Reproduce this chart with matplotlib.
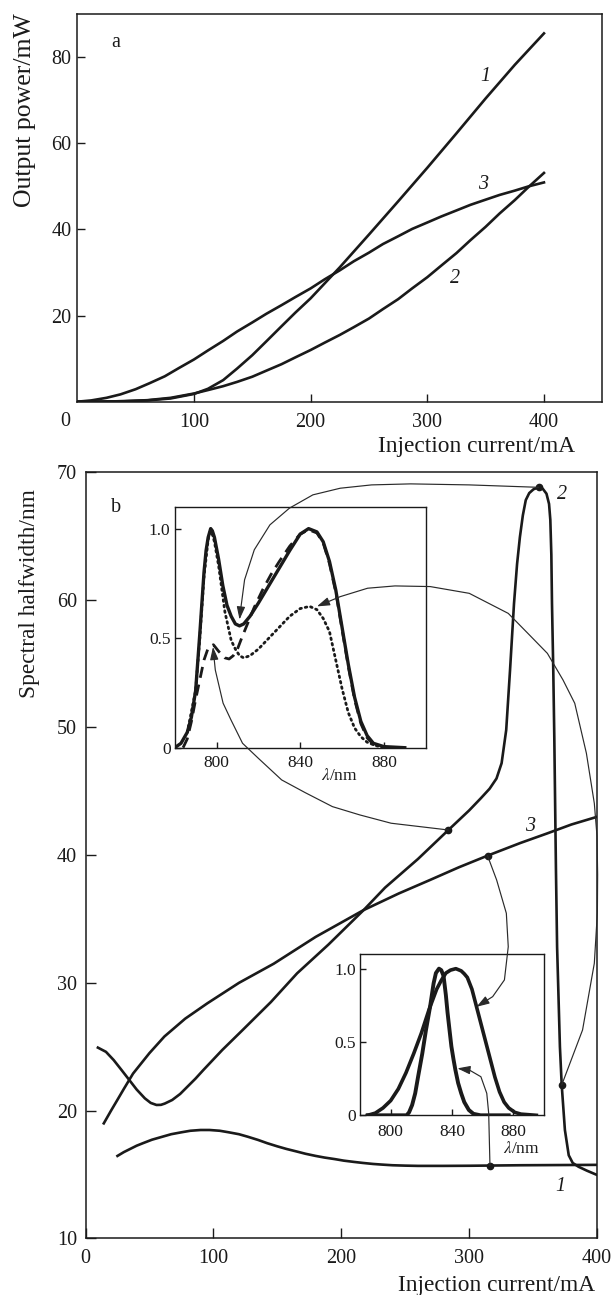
import matplotlib.pyplot as plt
import numpy as np
from matplotlib.patches import FancyArrowPatch
from matplotlib.path import Path

plt.rcParams['font.family'] = ['Liberation Serif', 'DejaVu Serif']
plt.rcParams['mathtext.fontset'] = 'stix'

# ---- panel a: output power vs injection current ----
a1_x = [0, 20, 40, 60, 80, 100, 112, 125, 137, 150, 162, 175, 187, 200, 225, 250, 275,
        300, 325, 350, 375, 400]
a1_y = [0, 0.03, 0.12, 0.3, 0.75, 1.8, 3.0, 5.0, 7.7, 10.8, 14.0, 17.5, 20.7, 24.0, 31.2,
        38.8, 46.5, 54.3, 62.3, 70.4, 78.2, 85.5]
a2_x = [0, 20, 40, 60, 80, 100, 112, 125, 137, 150, 162, 175, 187, 200, 212, 225, 237,
        250, 262, 275, 287, 300, 312, 325, 337, 350, 362, 375, 387, 400]
a2_y = [0, 0.03, 0.12, 0.35, 0.9, 1.9, 2.7, 3.6, 4.6, 5.8, 7.2, 8.7, 10.3, 12.0, 13.7,
        15.5, 17.3, 19.3, 21.5, 23.8, 26.3, 28.9, 31.6, 34.5, 37.5, 40.6, 43.7, 46.8,
        49.9, 53.1]
a3_x = [0, 12, 25, 37, 50, 62, 75, 87, 100, 112, 125, 137, 150, 162, 175, 187, 200, 212,
        225, 237, 250, 262, 275, 287, 300, 312, 325, 337, 350, 362, 375, 387, 400]
a3_y = [0, 0.3, 0.9, 1.7, 2.9, 4.3, 5.9, 7.8, 9.8, 11.9, 14.1, 16.3, 18.4, 20.4, 22.4,
        24.3, 26.3, 28.4, 30.5, 32.6, 34.6, 36.6, 38.4, 40.1, 41.6, 43.0, 44.4, 45.7,
        46.9, 48.0, 49.0, 50.0, 50.9]

# ---- panel b: spectral halfwidth vs injection current ----
b1_x = [25, 30, 35, 40, 45, 52, 60, 67, 75, 82, 90, 97, 105, 112, 120, 127, 135, 142,
        150, 157, 165, 172, 180, 187, 195, 202, 210, 217, 225, 232, 240, 250, 260, 280,
        300, 320, 340, 360, 380, 400]
b1_y = [16.45, 16.75, 17.0, 17.25, 17.45, 17.72, 17.95, 18.15, 18.3, 18.42, 18.48, 18.48,
        18.42, 18.3, 18.15, 17.95, 17.7, 17.45, 17.2, 17.0, 16.8, 16.62, 16.45, 16.32,
        16.2, 16.08, 15.98, 15.9, 15.82, 15.77, 15.72, 15.69, 15.67, 15.67, 15.68, 15.7,
        15.72, 15.73, 15.74, 15.75]

b2_x = [9.7, 16, 22, 28, 34.2, 40, 46.4, 51, 55.5, 59, 62, 67.8, 74, 80, 86, 92.2, 107,
        122.8, 145, 165.5, 190, 217.5, 234.3, 260, 283.8, 300, 309.2, 316, 321.4, 325.4,
        329, 332, 335.1, 337.5, 339.7, 342, 344.3, 347, 350.4, 354.4, 357.5, 360.5,
        362.5, 363.5, 364.3, 364.8, 365.8, 366.6, 367.9, 368.8, 371, 372.4, 374.9, 377.9,
        381, 385.6, 392, 400]
b2_y = [24.93, 24.6, 23.96, 23.2, 22.4, 21.65, 20.96, 20.6, 20.44, 20.45, 20.55, 20.83,
        21.3, 21.9, 22.5, 23.18, 24.75, 26.3, 28.5, 30.75, 33.0, 35.7, 37.46, 39.7, 41.97,
        43.5, 44.46, 45.2, 46.0, 47.2, 49.8, 54.5, 59.7, 62.8, 64.9, 66.6, 67.8, 68.35,
        68.65, 68.8, 68.7, 68.3, 67.5, 66.25, 63.5, 59.7, 54.5, 49.3, 38.84, 32.8, 25.0,
        22.0, 18.48, 16.5, 15.9, 15.6, 15.3, 14.96]

b3_x = [14.3, 20, 24.9, 30, 37.2, 50, 61.7, 78, 95.3, 120, 147.2, 180, 217.5, 245,
        269.5, 292, 314.4, 340, 361, 380, 400]
b3_y = [19.0, 20.0, 20.83, 21.7, 22.9, 24.5, 25.8, 27.2, 28.4, 30.0, 31.5, 33.6, 35.7,
        37.0, 38.06, 39.05, 39.96, 40.95, 41.7, 42.4, 43.0]

# points where the spectra in the insets were taken
dot_x = [354.4, 283.8, 372.4, 314.4, 316.3]
dot_y = [68.8, 41.97, 22.0, 39.96, 15.69]

# ---- inset 1 spectra (upper) ----
s1_solid_x = [780, 783, 786, 788, 790, 792, 794, 795, 796, 797.2, 798, 799, 801, 803, 805,
              807, 809, 811, 813, 816, 820, 825, 830, 835, 840, 844, 848, 851, 854, 857,
              860, 863, 866, 869, 872, 875, 880, 890]
s1_solid_y = [0, 0.02, 0.07, 0.14, 0.26, 0.52, 0.8, 0.9, 0.96, 1.0, 0.99, 0.96, 0.86, 0.74,
              0.65, 0.6, 0.565, 0.556, 0.565, 0.6, 0.66, 0.74, 0.82, 0.9, 0.975, 1.0,
              0.985, 0.94, 0.85, 0.72, 0.55, 0.38, 0.23, 0.12, 0.055, 0.02, 0.005, 0]
s1_dash_x = [784, 786, 788, 790, 792, 794, 796, 798.5, 801, 804, 806, 808, 810, 812, 815,
             818, 822, 826, 830, 835, 840, 844, 848, 851, 854, 857, 860, 863, 866, 869,
             872, 875, 880]
s1_dash_y = [0, 0.04, 0.12, 0.22, 0.31, 0.4, 0.455, 0.47, 0.44, 0.41, 0.405, 0.42, 0.45,
             0.5, 0.57, 0.64, 0.72, 0.79, 0.85, 0.92, 0.975, 0.995, 0.98, 0.935, 0.84,
             0.71, 0.54, 0.37, 0.22, 0.11, 0.045, 0.015, 0]
s1_dot_x = [786, 790, 792, 794, 796, 797.2, 799, 801, 804, 807, 809, 811, 813, 816, 820,
            825, 830, 835, 840, 844.5, 848, 851, 854, 857, 860, 863, 866, 869, 872, 876, 880]
s1_dot_y = [0.07, 0.26, 0.5, 0.78, 0.95, 1.0, 0.94, 0.83, 0.62, 0.49, 0.45, 0.42, 0.41,
            0.42, 0.45, 0.5, 0.55, 0.6, 0.635, 0.645, 0.63, 0.59, 0.53, 0.4, 0.27, 0.16,
            0.09, 0.05, 0.025, 0.01, 0]

# ---- inset 2 spectra (lower) ----
s2_narrow_x = [785, 800, 810.4, 812, 814, 816, 818, 820.6, 823, 825.7, 828, 829.5, 831.5,
               833, 834.5, 836, 837.1, 838.4, 839.6, 841, 842.2, 844, 846, 848, 851, 854,
               858.6, 877]
s2_narrow_y = [0, 0, 0, 0.02, 0.07, 0.15, 0.27, 0.42, 0.58, 0.74, 0.9, 0.97, 1.0, 0.99,
               0.95, 0.82, 0.7, 0.58, 0.47, 0.38, 0.31, 0.22, 0.15, 0.09, 0.036, 0.01, 0, 0]
s2_broad_x = [785, 790, 795, 800, 805, 810, 815, 820, 825, 830, 833, 836, 839, 842.5, 846,
              848, 850, 853, 856, 859, 862, 865, 868, 871, 874, 877, 881, 885, 895]
s2_broad_y = [0, 0.015, 0.05, 0.1, 0.18, 0.29, 0.42, 0.56, 0.72, 0.86, 0.92, 0.97, 0.99,
              1.0, 0.985, 0.965, 0.94, 0.86, 0.74, 0.62, 0.5, 0.38, 0.26, 0.16, 0.09,
              0.05, 0.02, 0.008, 0]

# connectors: waypoints in panel-b coordinates, tip in inset coordinates
conn_a = [(354.4, 68.8), (300.1, 68.99), (254.2, 69.07), (223.7, 68.99), (199.2, 68.73),
          (177.8, 68.21), (159.5, 67.17), (144.2, 65.86), (132.0, 63.91), (124.4, 61.56),
          (121.3, 59.21)]
tip_a = (811, 0.585)
conn_b = [(283.8, 41.97), (239.0, 42.5), (214.5, 43.15), (193.1, 43.8), (171.7, 46.93),
          (153.4, 45.89), (135.0, 50.06), (122.8, 48.76), (113.7, 53.2), (107.6, 51.9),
          (101.5, 54.5)]
conn_b = [(283.8, 41.97), (239.0, 42.5), (214.5, 43.15), (193.1, 43.8), (171.7, 44.9),
          (153.4, 45.89), (135.0, 47.6), (122.8, 48.76), (113.7, 50.6), (107.6, 51.9),
          (101.5, 54.5)]
tip_b = (798.3, 0.46)
conn_c = [(372.4, 22.0), (388.7, 26.31), (397.9, 31.53), (400.3, 35.5), (400.5, 38.5),
          (400.0, 41.5), (397.9, 44.06), (391.7, 47.98), (382.6, 51.89), (373.4, 53.72),
          (361.2, 55.8), (345.9, 57.37), (330.6, 58.93), (300.1, 60.5), (269.5, 61.03),
          (242.0, 61.08), (220.6, 60.9), (199.2, 60.24)]
tip_c = (848, 0.645)
conn_d = [(314.4, 39.96), (321.5, 38.06), (329.1, 35.45), (330.6, 32.83), (327.6, 30.23),
          (318.4, 28.92)]
tip_d = (856, 0.74)
conn_e = [(316.3, 15.69), (315.3, 19.79), (313.8, 21.35), (309.2, 22.65), (300.1, 23.18)]
tip_e = (843.5, 0.32)

W, H = 613, 1295
fig = plt.figure(figsize=(W / 100, H / 100), dpi=100)


def px_axes(l, t, r, b):
    return fig.add_axes([l / W, 1 - b / H, (r - l) / W, (b - t) / H])


ink = '#1a1a1a'
lw_main = 1.9
tick_fs = 14.5
label_fs = 16.8

# ---------------- panel a ----------------
ax_a = px_axes(77.3, 14, 602.3, 401.7)
ax_a.plot(a1_x, a1_y, color=ink, lw=lw_main, solid_joinstyle='round')
ax_a.plot(a2_x, a2_y, color=ink, lw=lw_main, solid_joinstyle='round')
ax_a.plot(a3_x, a3_y, color=ink, lw=lw_main, solid_joinstyle='round')
ax_a.set_xlim(0, 450)
ax_a.set_ylim(0, 90)
ax_a.set_xticks([100, 200, 300, 400])
ax_a.set_yticks([20, 40, 60, 80])
ax_a.tick_params(direction='in', length=6, width=1, labelsize=tick_fs, colors=ink)
ax_a.tick_params(axis='x', pad=8)
ax_a.tick_params(axis='y', pad=4)
for sp in ax_a.spines.values():
    sp.set_linewidth(1.1)
    sp.set_color(ink)
ax_a.text(-0.0234, -0.0516, '0', transform=ax_a.transAxes, ha='center', va='center',
          fontsize=tick_fs, color=ink)
ax_a.set_xlabel('Injection current/mA', fontsize=label_fs, loc='right', va='center', color=ink)
ax_a.xaxis.set_label_coords(0.948, -0.116)
ax_a.set_ylabel('Output power/mW', fontsize=18.5, va='center', color=ink)
ax_a.yaxis.set_label_coords(-0.0996, 0.752)
ax_a.text(33, 83.4, 'a', fontsize=tick_fs, ha='center', va='center', color=ink)
ax_a.text(349.4, 75.5, '1', fontsize=tick_fs, style='italic', ha='center', va='center', color=ink)
ax_a.text(324, 28.7, '2', fontsize=tick_fs, style='italic', ha='center', va='center', color=ink)
ax_a.text(348, 50.5, '3', fontsize=tick_fs, style='italic', ha='center', va='center', color=ink)

# ---------------- panel b ----------------
ax_b = px_axes(85.5, 472, 597, 1238.3)
ax_b.plot(b1_x, b1_y, color=ink, lw=lw_main, solid_joinstyle='round')
ax_b.plot(b2_x, b2_y, color=ink, lw=lw_main, solid_joinstyle='round')
ax_b.plot(b3_x, b3_y, color=ink, lw=lw_main, solid_joinstyle='round')
ax_b.set_xlim(0, 400)
ax_b.set_ylim(10, 70)
ax_b.set_xticks([0, 100, 200, 300, 400])
ax_b.set_yticks([10, 20, 30, 40, 50, 60, 70])
ax_b.tick_params(direction='in', length=7, width=1, labelsize=tick_fs, colors=ink)
ax_b.tick_params(axis='x', pad=8)
ax_b.tick_params(axis='y', pad=6)
for sp in ax_b.spines.values():
    sp.set_linewidth(1.1)
    sp.set_color(ink)
ax_b.set_xlabel('Injection current/mA', fontsize=label_fs, loc='right', va='center', color=ink)
ax_b.xaxis.set_label_coords(0.996, -0.061)
ax_b.set_ylabel('Spectral halfwidth/nm', fontsize=label_fs, va='center', color=ink)
ax_b.yaxis.set_label_coords(-0.109, 0.842)
ax_b.text(24.1, 67.2, 'b', fontsize=tick_fs, ha='center', va='center', color=ink)
ax_b.text(371.3, 14.04, '1', fontsize=tick_fs, style='italic', ha='center', va='center', color=ink)
ax_b.text(372.5, 68.2, '2', fontsize=tick_fs, style='italic', ha='center', va='center', color=ink)
ax_b.text(347.4, 42.23, '3', fontsize=tick_fs, style='italic', ha='center', va='center', color=ink)

# ---------------- insets ----------------
inset_fs = 12.5


def style_inset(ax, xpad):
    ax.set_xlim(780, 900)
    ax.set_ylim(0, 1.1)
    ax.set_xticks([800, 840, 880])
    ax.set_yticks([0, 0.5, 1.0])
    ax.set_yticklabels(['0', '0.5', '1.0'])
    ax.tick_params(direction='in', length=4, width=1, labelsize=inset_fs, colors=ink)
    ax.tick_params(axis='x', pad=xpad)
    ax.tick_params(axis='y', pad=3)
    for sp in ax.spines.values():
        sp.set_linewidth(1.0)
        sp.set_color(ink)


ax_i1 = px_axes(174.7, 506.7, 425.7, 747.7)
ax_i1.plot(s1_solid_x, s1_solid_y, color=ink, lw=2.4, zorder=3, solid_joinstyle='round')
ax_i1.plot(s1_dash_x, s1_dash_y, color=ink, lw=2.0, linestyle=(0, (4, 2.5)), zorder=2)
ax_i1.plot(s1_dot_x, s1_dot_y, color=ink, lw=2.0, linestyle=(0, (0.6, 1.4)),
           dash_capstyle='round', zorder=2)
style_inset(ax_i1, 5)
ax_i1.text(858.7, -0.13, r'$\lambda$/nm', fontsize=inset_fs, ha='center', va='center',
           color=ink, clip_on=False)

ax_i2 = px_axes(360, 954, 544, 1115.3)
ax_i2.plot(s2_narrow_x, s2_narrow_y, color=ink, lw=2.8, solid_joinstyle='round')
ax_i2.plot(s2_broad_x, s2_broad_y, color=ink, lw=2.6, solid_joinstyle='round')
style_inset(ax_i2, 6)
ax_i2.text(885, -0.232, r'$\lambda$/nm', fontsize=inset_fs, ha='center', va='center',
           color=ink, clip_on=False)

# dots on curves
ax_b.plot(dot_x, dot_y, 'o', color=ink, ms=4.5, zorder=5, clip_on=False)


# connectors from the dots to the spectra
def connector(points, tip, ax_in):
    tip_disp = ax_in.transData.transform(tip)
    tip_b = ax_b.transData.inverted().transform(tip_disp)
    verts = np.vstack([np.array(points), tip_b])
    arr = FancyArrowPatch(path=Path(verts), arrowstyle='-|>,head_length=0.55,head_width=0.18',
                          mutation_scale=14, lw=0.85, color='#2a2a2a',
                          joinstyle='round', transform=ax_b.transData, zorder=6)
    fig.add_artist(arr)


connector(conn_a, tip_a, ax_i1)
connector(conn_b, tip_b, ax_i1)
connector(conn_c, tip_c, ax_i1)
connector(conn_d, tip_d, ax_i2)
connector(conn_e, tip_e, ax_i2)

fig.savefig('out.png', dpi=100)
